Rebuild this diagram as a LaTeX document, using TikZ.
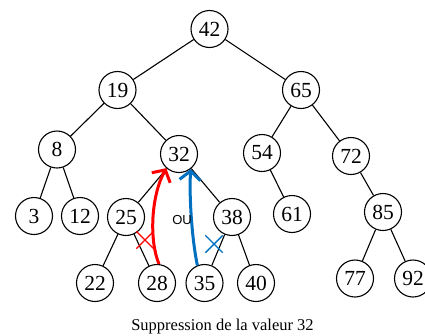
\documentclass[tikz,border=0pt]{standalone}
\usepackage{fontspec}
\setmainfont{Liberation Serif}
\setsansfont{Liberation Sans}
\usetikzlibrary{arrows.meta,shapes.misc}
\definecolor{pathred}{RGB}{255,0,0}
\definecolor{pathblue}{RGB}{0,112,192}
\begin{document}
\begin{tikzpicture}[x=1pt,y=-1pt,
  vertex/.style={circle,draw,line width=1.1pt,minimum size=37pt,inner sep=0pt,
    font=\fontsize{21.5}{21.5}\selectfont},
  treeedge/.style={line width=1.1pt},
  movearrow/.style={line width=3pt,-{Straight Barb[length=9pt,width=21pt,line width=3pt]}},
  crossmark/.style={cross out,draw,line width=1.4pt,minimum size=16pt,inner sep=0pt},
  caption/.style={font=\fontsize{16.5}{17}\selectfont},
  oulabel/.style={font=\sffamily\fontsize{13}{13}\selectfont}]
\useasboundingbox (0,0) rectangle (425,335);
\fill[white] (0,0) rectangle (425,335);
% nodes
\node[vertex] (n42) at (209.5,29) {42};
\node[vertex] (n19) at (117.5,90) {19};
\node[vertex] (n65) at (301,90) {65};
\node[vertex] (n8) at (57,149.5) {8};
\node[vertex] (n32) at (179,154) {32};
\node[vertex] (n54) at (262,153) {54};
\node[vertex] (n72) at (351,156) {72};
\node[vertex] (n3) at (34,216) {3};
\node[vertex] (n12) at (80,216) {12};
\node[vertex] (n25) at (126,217) {25};
\node[vertex] (n38) at (232,217) {38};
\node[vertex] (n61) at (292,214) {61};
\node[vertex] (n85) at (383,212) {85};
\node[vertex] (n22) at (95,283) {22};
\node[vertex] (n28) at (157,283) {28};
\node[vertex] (n35) at (204.5,283) {35};
\node[vertex] (n40) at (256,283) {40};
\node[vertex] (n77) at (355,278.5) {77};
\node[vertex] (n92) at (413,278.5) {92};
% edges
\foreach \a/\b in {n42/n19,n42/n65,n19/n8,n19/n32,n65/n54,n65/n72,n8/n3,n8/n12,
  n32/n25,n32/n38,n54/n61,n72/n85,n25/n22,n25/n28,n38/n35,n38/n40,n85/n77,n85/n92}
  \draw[treeedge] (\a) -- (\b);
% arrows
\draw[movearrow,pathred] (n28.84) .. controls (149,240) and (151,196) .. (n32.228);
\draw[movearrow,pathblue] (n35.112) .. controls (192,240) and (189,196) .. (n32.308);
% crosses
\node[crossmark,pathred] (xred) at (145,240) {};
\node[crossmark,pathblue] (xblue) at (214,244) {};
% labels
\node[oulabel] (ou) at (182,220) {OU};
\node[caption,anchor=base] (cap) at (222.5,330.5) {Suppression de la valeur 32};
\end{tikzpicture}
\end{document}
